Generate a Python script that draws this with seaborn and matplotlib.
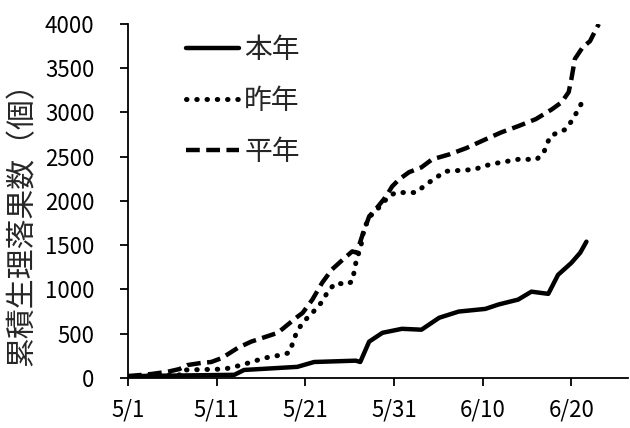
import matplotlib
matplotlib.use("Agg")
import matplotlib.pyplot as plt
import seaborn as sns
import pandas as pd

# days since 5/1 and cumulative counts
this_days = [0, 12, 13.1, 19.1, 21, 25.7, 26.2, 27.2, 28.7, 30.9, 33.1, 35.1, 37.3,
             40.3, 41.8, 44, 45.5, 47.4, 48.5, 50, 51, 51.7]
this_vals = [20, 35, 90, 125, 180, 195, 180, 410, 510, 555, 545, 680, 750,
             780, 830, 885, 975, 950, 1165, 1300, 1415, 1540]

last_days = [0, 6.1, 6.4, 10.9, 12.8, 15.4, 17.3, 18.2, 19, 19.7, 20.8, 21.8, 22.7,
             23.5, 24.6, 25.3, 25.7, 26.3, 26.6, 27.2, 28.3, 29.4, 30.2, 32.5, 33.6,
             35.8, 39, 40.9, 44, 46.1, 46.9, 47.6, 48.5, 49.4, 50, 50.6, 51.1]
last_vals = [20, 35, 90, 100, 145, 225, 260, 285, 510, 625, 735, 850, 1000,
             1075, 1055, 1090, 1300, 1505, 1675, 1815, 1925, 2050, 2095, 2095, 2185,
             2335, 2355, 2415, 2470, 2470, 2550, 2730, 2775, 2810, 2900, 3000, 3095]

avg_days = [0, 2.7, 4.5, 5.8, 6.7, 8.3, 9.4, 10.6, 12.4, 13.9, 16.9, 18, 19.1, 19.7,
            20.8, 21.9, 23, 24.6, 25.3, 25.8, 26.4, 27.2, 28.1, 29.1, 29.8, 30.6,
            31.7, 33.1, 34.3, 36.2, 38.1, 40.3, 42.1, 44, 46, 47.8, 48.9, 49.7,
            50, 50.4, 51.3, 52.1, 52.8, 53.1]
avg_vals = [20, 45, 70, 100, 145, 170, 180, 225, 340, 410, 510, 600, 690, 735,
            885, 1075, 1225, 1370, 1430, 1415, 1600, 1825, 1925, 2050, 2165, 2245,
            2325, 2380, 2470, 2525, 2595, 2695, 2775, 2845, 2925, 3035, 3115, 3230,
            3375, 3605, 3740, 3805, 3945, 4000]

series_names = ["本年", "昨年", "平年"]
tick_days = [0, 10, 20, 30, 40, 50]
tick_labels = ["5/1", "5/11", "5/21", "5/31", "6/10", "6/20"]

df = pd.concat([
    pd.DataFrame({"day": this_days, "count": this_vals, "year": series_names[0]}),
    pd.DataFrame({"day": last_days, "count": last_vals, "year": series_names[1]}),
    pd.DataFrame({"day": avg_days, "count": avg_vals, "year": series_names[2]}),
])

sns.set_theme(style="ticks")
plt.rcParams['font.family'] = ['Noto Sans CJK JP', 'DejaVu Sans']

fig = plt.figure(figsize=(6.3, 4.28), dpi=100)
ax = fig.add_axes([0.203, 0.117, 0.794, 0.827])

# (linestyle, capstyle, width)
styles = {"本年": ("-", "round", 3.2),
          "昨年": ((0, (0.1, 1.95)), "round", 3.6),
          "平年": ((0, (3.1, 1.45)), "butt", 3.2)}
for name in series_names:
    sub = df[df["year"] == name]
    ls, cap, lw = styles[name]
    sns.lineplot(data=sub, x="day", y="count", ax=ax, color="black",
                 linewidth=lw, linestyle=ls, dash_capstyle=cap,
                 solid_capstyle="round", label=name)

ax.set_xlim(0, 56.4)
ax.set_ylim(0, 4000)
ax.set_yticks(range(0, 4001, 500))
ax.set_xticks(tick_days)
ax.set_xticklabels(tick_labels)
ax.set_xlabel("")
ax.set_ylabel("累積生理落果数（個）", fontsize=21.5)
ax.yaxis.set_label_coords(-0.18, 0.455)
ax.tick_params(axis="both", labelsize=16, length=6, width=1.3, color="black",
               labelcolor="black")
ax.tick_params(axis="y", pad=18)
ax.tick_params(axis="x", pad=9)
for s in ["left", "bottom"]:
    ax.spines[s].set_linewidth(1.3)
    ax.spines[s].set_color("black")
sns.despine(ax=ax)

leg = ax.legend(loc="upper left", bbox_to_anchor=(0.094, 1.0), frameon=False,
                fontsize=20, handlelength=1.9, handletextpad=0.2,
                labelspacing=0.75, borderaxespad=0)

fig.savefig("out.png", dpi=100)
